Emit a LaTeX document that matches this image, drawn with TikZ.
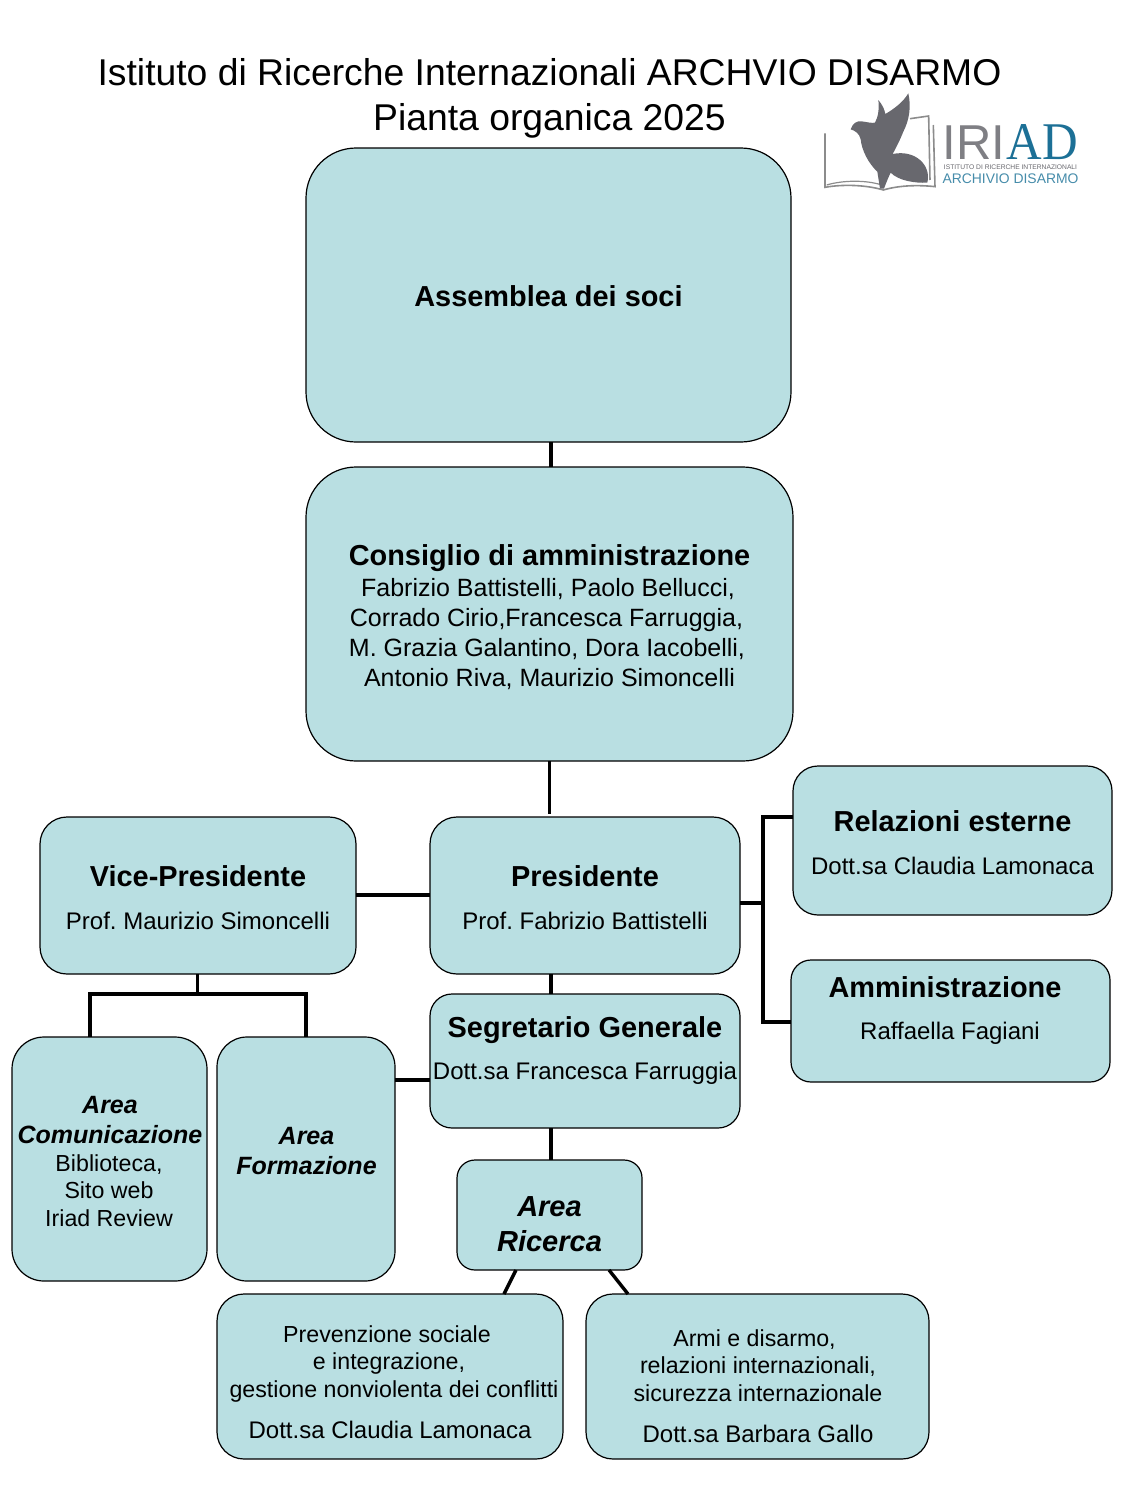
\documentclass[tikz,border=0pt]{standalone}
\usepackage{fontspec}
\setmainfont{Liberation Sans}
\newfontfamily\logoserif{Liberation Serif}
\definecolor{boxfill}{RGB}{185,223,226}
\definecolor{logogray}{RGB}{104,104,110}
\definecolor{logoline}{RGB}{140,140,140}
\definecolor{logoblue}{RGB}{28,112,150}
\definecolor{logolight}{RGB}{70,140,170}
\newcommand\fs[2]{\frenchspacing\fontsize{#1}{#2}\selectfont}
\tikzset{
  orgbox/.style={draw=black,fill=boxfill,line width=1.2pt,inner sep=0pt,outer sep=0pt},
  link/.style={draw=black,line width=3.4pt},
  linkheavy/.style={draw=black,line width=4pt},
  txt/.style={inner sep=0pt,outer sep=0pt,align=center,text=black},
  title/.style={txt,font=\fs{37.3}{45}},
  head/.style={txt,font=\fs{28.9}{34}\bfseries},
  sub/.style={txt,font=\fs{24}{29.5}},
  subwide/.style={txt,font=\fs{25}{30}},
  area/.style={txt,font=\fs{25}{30}\bfseries\itshape},
  areabig/.style={txt,font=\fs{29}{35}\bfseries\itshape},
  small/.style={txt,font=\fs{23.2}{27.5}},
  logotext/.style={inner sep=0pt,outer sep=0pt},
}
\begin{document}
\begin{tikzpicture}[x=1pt,y=-1pt]
\useasboundingbox (0,0) rectangle (1125,1500);
% title
\node[title] (ttl) at (549.5,98) {Istituto di Ricerche Internazionali ARCHVIO DISARMO\\Pianta organica 2025};
% logo
\begin{scope}[shift={(820,90)},x=0.3333pt,y=-0.3333pt]
  \draw[logoline,line width=1.6pt] (15,130) -- (15,292) .. controls (70,282) and (140,285) .. (190,300) .. controls (240,285) and (300,285) .. (345,290) -- (340,105);
  \draw[logoline,line width=1.6pt] (270,86) -- (326,78) -- (330,270);
  \draw[logoline,line width=1.2pt] (20,285) .. controls (70,270) and (140,270) .. (185,285);
  \fill[logogray] (92,118) .. controls (98,100) and (110,92) .. (125,94)
    .. controls (140,96) and (155,100) .. (165,98)
    .. controls (175,80) and (178,55) .. (175,30)
    .. controls (188,45) and (194,60) .. (196,72)
    .. controls (225,55) and (250,35) .. (265,10)
    .. controls (274,50) and (268,90) .. (250,125)
    .. controls (240,150) and (230,170) .. (218,192)
    .. controls (285,178) and (335,225) .. (322,278)
    .. controls (285,280) and (235,272) .. (212,248)
    .. controls (205,262) and (198,280) .. (192,296)
    -- (180,296) -- (172,245)
    .. controls (145,220) and (125,180) .. (122,148)
    .. controls (118,130) and (105,122) .. (92,118) -- cycle;
\end{scope}
\node[logotext,text=logogray!85,font=\fs{49}{49}] (lgiri) at (974,142.5) {IRI};
\node[logotext,text=logoblue,font=\logoserif\fs{53}{53}] (lgad) at (1042,142.5) {\scalebox{0.93}[1]{AD}};
\node[logotext,text=logogray,font=\fs{6.7}{7}] (lgist) at (1010.5,167) {ISTITUTO DI RICERCHE INTERNAZIONALI};
\node[logotext,text=logolight,font=\fs{13.9}{14}] (lgarc) at (1010.5,179) {ARCHIVIO DISARMO};
% boxes
\node[orgbox,minimum width=485pt,minimum height=294pt,rounded corners=50pt] (ass) at (548.5,295) {};
\node[orgbox,minimum width=487pt,minimum height=294pt,rounded corners=50pt] (cda) at (549.5,614) {};
\node[orgbox,minimum width=316pt,minimum height=157pt,rounded corners=27pt] (vice) at (198,895.5) {};
\node[orgbox,minimum width=310pt,minimum height=157pt,rounded corners=27pt] (pres) at (585,895.5) {};
\node[orgbox,minimum width=319pt,minimum height=149pt,rounded corners=25pt] (rel) at (952.5,840.5) {};
\node[orgbox,minimum width=319pt,minimum height=122pt,rounded corners=20pt] (amm) at (950.5,1021) {};
\node[orgbox,minimum width=310pt,minimum height=134pt,rounded corners=22pt] (seg) at (585,1061) {};
\node[orgbox,minimum width=195pt,minimum height=244pt,rounded corners=32pt] (com) at (109.5,1159) {};
\node[orgbox,minimum width=178pt,minimum height=244pt,rounded corners=30pt] (form) at (306,1159) {};
\node[orgbox,minimum width=185pt,minimum height=110pt,rounded corners=18pt] (ric) at (549.5,1215) {};
\node[orgbox,minimum width=346pt,minimum height=165pt,rounded corners=27pt] (prev) at (390,1376.5) {};
\node[orgbox,minimum width=343pt,minimum height=165pt,rounded corners=27pt] (armi) at (757.5,1376.5) {};
% helper coordinates for connectors
\coordinate (xa) at (551,0);
\coordinate (xb) at (549.5,0);
\coordinate (xv) at (197.5,0);
\coordinate (xl) at (90,0);
\coordinate (xr) at (305.5,0);
\coordinate (ybar) at (0,993.5);
\coordinate (xt) at (763,0);
\coordinate (yp) at (0,895);
\coordinate (yq) at (0,903);
\coordinate (yr) at (0,816.5);
\coordinate (ya) at (0,1021.5);
\coordinate (yf) at (0,1080);
\coordinate (jl) at (516,1270);
\coordinate (jlb) at (504,1294);
\coordinate (jr) at (609,1270);
\coordinate (jrb) at (628,1294);
% connectors
\draw[link] (xa |- ass.south) -- (xa |- cda.north);
\draw[link,shorten >=3pt] (xb |- cda.south) -- (xb |- pres.north);
\draw[link] (vice.east |- yp) -- (pres.west |- yp);
\draw[link] (xv |- vice.south) -- (xv |- ybar);
\draw[linkheavy] (xl |- com.north) -- (xl |- ybar) -- (xr |- ybar) -- (xr |- form.north);
\draw[link] (xa |- pres.south) -- (xa |- seg.north);
\draw[link] (form.east |- yf) -- (seg.west |- yf);
\draw[link] (xa |- seg.south) -- (xa |- ric.north);
\draw[link] (jl) -- (jlb);
\draw[link] (jr) -- (jrb);
\draw[link] (pres.east |- yq) -- (xt |- yq);
\draw[linkheavy] (rel.west |- yr) -- (xt |- yr) -- (xt |- ya) -- (amm.west |- ya);
% texts
\node[head] (tass) at (548.5,296) {Assemblea dei soci};
\node[head] (tcda) at (549.5,558) {Consiglio di amministrazione};
\node[subwide] (tcdb) at (548,634) {Fabrizio Battistelli, Paolo Bellucci,\\\hspace*{-3pt}Corrado Cirio,Francesca Farruggia,\\\hspace*{-2pt}M. Grazia Galantino, Dora Iacobelli,\\\hspace*{3pt}Antonio Riva, Maurizio Simoncelli};
\node[head] (tvice) at (198,876) {Vice-Presidente};
\node[sub] (tviceb) at (198,921) {Prof. Maurizio Simoncelli};
\node[head] (tpres) at (585,876) {Presidente};
\node[sub] (tpresb) at (585,921) {Prof. Fabrizio Battistelli};
\node[head] (trel) at (952.5,821) {Relazioni esterne};
\node[sub] (trelb) at (952.5,866) {Dott.sa Claudia Lamonaca};
\node[head] (tamm) at (945,987) {Amministrazione};
\node[sub] (tammb) at (950,1033) {Raffaella Fagiani};
\node[head] (tseg) at (585,1030) {Segretario Generale};
\node[sub] (tsegb) at (585,1073) {Dott.sa Francesca Farruggia};
\node[area] (tcom) at (110,1120.5) {Area\\Comunicazione};
\node[small] (tcomb) at (109,1190.5) {Biblioteca,\\Sito web\\Iriad Review};
\node[area] (tform) at (306.5,1151) {Area\\Formazione};
\node[areabig] (tric) at (549.5,1224) {Area\\Ricerca};
\node[small] (tprev) at (394,1363.5) {\hspace*{-14pt}Prevenzione sociale\\\hspace*{-10pt}e integrazione,\\gestione nonviolenta dei conflitti};
\node[sub] (tprevb) at (390,1430) {Dott.sa Claudia Lamonaca};
\node[small] (tarmi) at (758,1365.5) {\hspace*{-7pt}Armi e disarmo,\\relazioni internazionali,\\sicurezza internazionale};
\node[sub] (tarmib) at (758,1434) {Dott.sa Barbara Gallo};
\end{tikzpicture}
\end{document}
